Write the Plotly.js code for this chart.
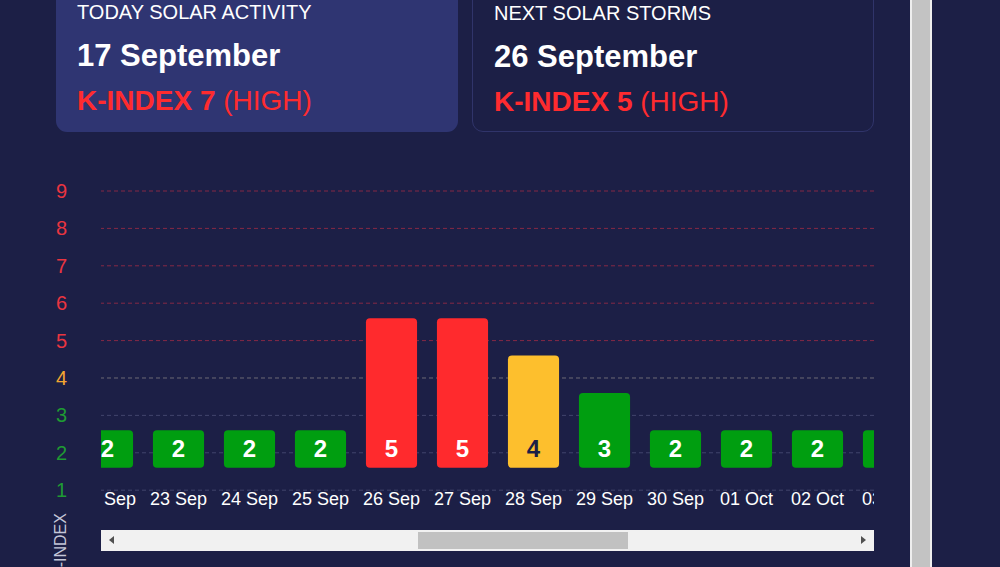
<!DOCTYPE html>
<html>
<head>
<meta charset="utf-8">
<script src="https://cdn.plot.ly/plotly-3.0.1.min.js"></script>
<style>
  html, body { margin: 0; padding: 0; }
  body {
    width: 1000px; height: 567px; overflow: hidden; position: relative;
    background: #1c1f46; font-family: "Liberation Sans", Arial, sans-serif; color: #fff;
  }
  .card {
    position: absolute; top: -20px; height: 152px; width: 402px;
    border-radius: 11px; box-sizing: border-box;
  }
  #today { left: 56px; background: #2f3572; }
  #next { left: 472px; border: 1px solid #30346a; }
  .card .lbl { position: absolute; left: 21px; top: 20px; font-size: 20px; line-height: 24px; }
  .card .day { position: absolute; left: 21px; top: 58px; font-size: 31px; font-weight: bold; line-height: 36px; }
  .card .kp { position: absolute; left: 21px; top: 105px; font-size: 28px; line-height: 32px; color: #ff2b2f; }
  .card .kp b { font-weight: bold; }
  #axisDiv { position: absolute; left: 0; top: 0; width: 110px; height: 567px; }
  #scrollWin { position: absolute; left: 101px; top: 0; width: 773px; height: 567px; overflow: hidden; }
  #myDiv { position: absolute; left: -29px; top: 0; width: 852px; height: 567px; }
  #hscroll { position: absolute; left: 101px; top: 530px; width: 773px; height: 21px; background: #f1f1f1; }
  #hthumb { position: absolute; left: 317px; top: 2px; width: 210px; height: 17px; background: #c1c1c1; }
  .arr { position: absolute; top: 6px; width: 0; height: 0; border-top: 4px solid transparent; border-bottom: 4px solid transparent; }
  #aleft { left: 8px; border-right: 5px solid #505050; }
  #aright { right: 8px; border-left: 5px solid #505050; }
  #vscroll { position: absolute; left: 910px; top: 0; width: 22px; height: 567px; background: #c3c3c3;
    border-left: 2px solid #eeeeee; border-right: 2px solid #eeeeee; box-sizing: border-box; }
</style>
</head>
<body>
<div class="card" id="today">
  <div class="lbl">TODAY SOLAR ACTIVITY</div>
  <div class="day">17 September</div>
  <div class="kp"><b>K-INDEX 7</b> (HIGH)</div>
</div>
<div class="card" id="next">
  <div class="lbl">NEXT SOLAR STORMS</div>
  <div class="day">26 September</div>
  <div class="kp"><b>K-INDEX 5</b> (HIGH)</div>
</div>
<div id="axisDiv"></div>
<div id="scrollWin"><div id="myDiv"></div></div>
<div id="hscroll"><div id="aleft" class="arr"></div><div id="hthumb"></div><div id="aright" class="arr"></div></div>
<div id="vscroll"></div>
<script>
// forecast days in the scrolled window
const dates = ['22 Sep', '23 Sep', '24 Sep', '25 Sep', '26 Sep', '27 Sep', '28 Sep',
    '29 Sep', '30 Sep', '01 Oct', '02 Oct', '03 Oct'];
// K-index for each day
const kIndex = [2, 2, 2, 2, 5, 5, 4, 3, 2, 2, 2, 2];

// y axis levels
const levels = [1, 2, 3, 4, 5, 6, 7, 8, 9];

const RED = '#ff2a2d',
    YELLOW = '#fdbf2d',
    GREEN = '#009e10';

// bars start under level 2 and go a bit over their value
const barBase = 1.6;
const barOver = 0.6;
const labelY = 2.05;

// same y range and vertical margins for both plots
const yRange = [0.898, 9.428];
const mTop = 175,
    mBottom = 73;

function levelColor(k) {
    if (k >= 5) return RED;
    if (k == 4) return YELLOW;
    return GREEN;
}

function tickColor(k) {
    if (k >= 5) return '#ea3540';
    if (k == 4) return '#f2a631';
    return '#1f9b33';
}

function gridColor(k) {
    if (k >= 5) return 'rgba(220,50,70,0.55)';
    if (k == 4) return 'rgba(190,180,165,0.5)';
    return 'rgba(120,125,165,0.4)';
}

var bars = {
    type: 'bar',
    x: dates,
    y: kIndex.map(k => k + barOver - barBase),
    base: barBase,
    marker: { color: kIndex.map(levelColor), line: { width: 0 } },
    hoverinfo: 'skip'
};

var labels = {
    type: 'scatter',
    mode: 'text',
    x: dates,
    y: kIndex.map(() => labelY),
    text: kIndex.map(String),
    textfont: {
        family: 'Liberation Sans, Arial, sans-serif',
        size: 24,
        weight: 'bold',
        color: kIndex.map(k => k == 4 ? '#1c1f46' : '#ffffff')
    },
    textposition: 'middle center',
    hoverinfo: 'skip'
};

var grid = levels.map(k => ({
    type: 'line',
    xref: 'paper', x0: 0, x1: 1,
    yref: 'y', y0: k, y1: k,
    layer: 'below',
    line: { color: gridColor(k), width: 1, dash: '4px,3px' }
}));

var layout = {
    width: 852,
    height: 567,
    margin: { l: 0, r: 0, t: mTop, b: mBottom },
    paper_bgcolor: 'rgba(0,0,0,0)',
    plot_bgcolor: 'rgba(0,0,0,0)',
    showlegend: false,
    bargap: 0.28,
    barcornerradius: 4,
    font: { family: 'Liberation Sans, Arial, sans-serif', color: '#ffffff' },
    xaxis: {
        type: 'category',
        range: [-0.5, dates.length - 0.5],
        showgrid: false,
        zeroline: false,
        showline: false,
        ticks: '',
        ticklabelstandoff: -8,
        tickfont: { size: 18, color: '#ffffff' },
        fixedrange: true
    },
    yaxis: {
        range: yRange,
        showgrid: false,
        zeroline: false,
        showline: false,
        showticklabels: false,
        fixedrange: true
    },
    shapes: grid
};

// fixed y axis left of the scrolling window
var axisLayout = {
    width: 110,
    height: 567,
    margin: { l: 101, r: 8, t: mTop, b: mBottom },
    paper_bgcolor: 'rgba(0,0,0,0)',
    plot_bgcolor: 'rgba(0,0,0,0)',
    showlegend: false,
    font: { family: 'Liberation Sans, Arial, sans-serif', color: '#ffffff' },
    xaxis: { visible: false, fixedrange: true },
    yaxis: {
        range: yRange,
        showgrid: false,
        zeroline: false,
        showline: false,
        tickmode: 'array',
        tickvals: levels,
        ticktext: levels.map(k => '<span style="color:' + tickColor(k) + '">' + k + '</span>'),
        ticks: 'outside',
        ticklen: 28,
        tickcolor: 'rgba(0,0,0,0)',
        tickfont: { size: 20 },
        fixedrange: true
    },
    annotations: [{
        text: 'K-INDEX',
        textangle: -90,
        xref: 'paper', x: 0, xshift: -39, xanchor: 'center',
        yref: 'paper', y: -0.163, yanchor: 'middle',
        showarrow: false,
        font: { size: 16, color: '#c4c6d8' }
    }]
};

Plotly.newPlot('axisDiv', [{ type: 'scatter', x: [], y: [] }], axisLayout, { displayModeBar: false, staticPlot: true });
Plotly.newPlot('myDiv', [bars, labels], layout, { displayModeBar: false, staticPlot: true });
</script>
</body>
</html>
